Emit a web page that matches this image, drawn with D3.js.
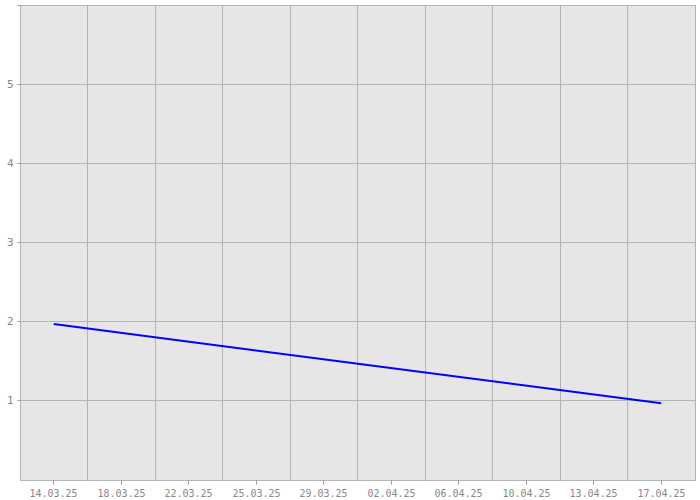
<!DOCTYPE html>
<html><head><meta charset="utf-8">
<script src="https://cdn.jsdelivr.net/npm/d3@7"></script>
<style>body{margin:0;background:#fff}svg{display:block}</style>
</head><body>
<svg id="c" width="700" height="500"></svg>
<script>
const tickLabels = ["14.03.25","18.03.25","22.03.25","25.03.25","29.03.25","02.04.25","06.04.25","10.04.25","13.04.25","17.04.25"];
const seriesDates = ["14.03.25","17.04.25"];
const seriesValues = [1.97, 0.97];
const yTicks = [1,2,3,4,5];

const svg = d3.select("#c");
const L = 20, R = 695, T = 5, B = 480;
const x = d3.scaleBand().domain(tickLabels).range([L, R]);
const y = d3.scaleLinear().domain([0, 6]).range([B, T]);
const grid = "#b4b4b4", txt = "#888";
const px = v => Math.floor(v) + 0.5;

svg.append("rect").attr("x", L).attr("y", T).attr("width", R - L).attr("height", B - T).attr("fill", "#e6e6e6");

const g = svg.append("g");
tickLabels.slice(1).forEach(d => {
  g.append("line").attr("x1", px(x(d))).attr("x2", px(x(d)))
    .attr("y1", T).attr("y2", B).attr("stroke", grid);
});
yTicks.forEach(v => {
  g.append("line").attr("x1", L).attr("x2", R).attr("y1", px(y(v))).attr("y2", px(y(v))).attr("stroke", grid);
});
svg.append("rect").attr("x", L + 0.5).attr("y", T + 0.5).attr("width", R - L).attr("height", B - T)
  .attr("fill", "none").attr("stroke", grid);

// x axis
const xa = svg.append("g").attr("transform", `translate(0,${B + 0.5})`)
  .call(d3.axisBottom(x).tickSize(4).tickPadding(5).offset(0));
xa.select(".domain").remove();
xa.selectAll(".tick").attr("transform", d => `translate(${px(x(d) + x.bandwidth() / 2)},0)`);
xa.selectAll("line").attr("stroke", "#999");
xa.selectAll("text").attr("fill", txt).style("font-family", "'DejaVu Sans Mono', monospace").style("font-size", "10px");

// y axis
const ya = svg.append("g").attr("transform", `translate(${L + 0.5},0)`)
  .call(d3.axisLeft(y).tickValues([1,2,3,4,5,6]).tickSize(3).tickPadding(4).offset(0)
    .tickFormat(d => yTicks.includes(d) ? d : ""));
ya.select(".domain").remove();
ya.selectAll(".tick").attr("transform", d => `translate(0,${px(y(d))})`);
ya.selectAll("line").attr("stroke", "#999");
ya.selectAll("text").attr("fill", txt).style("font-family", "'DejaVu Sans Mono', monospace").style("font-size", "11px");

// series
const pts = seriesDates.map((d, i) => [x(d) + x.bandwidth() / 2, y(seriesValues[i])]);
svg.append("path").attr("d", d3.line()(pts)).attr("fill", "none").attr("stroke", "#0000ff").attr("stroke-width", 2);
</script>
</body></html>
